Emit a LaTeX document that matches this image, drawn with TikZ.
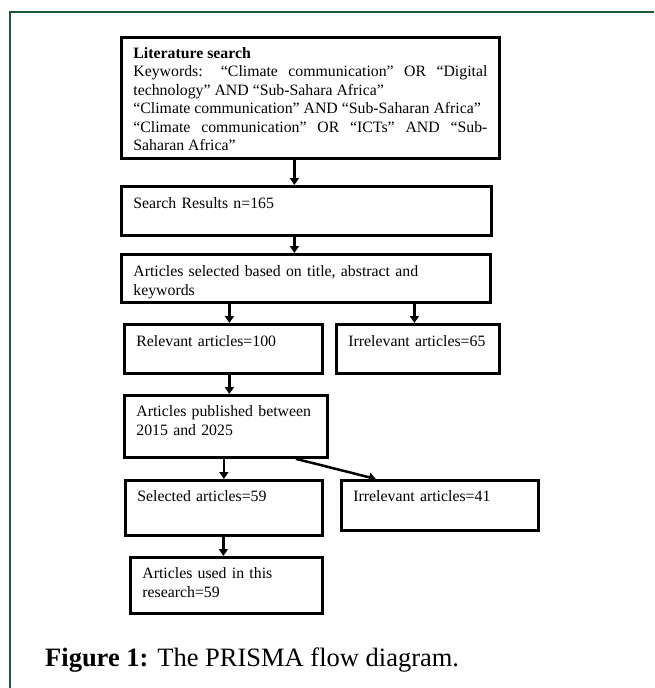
\documentclass[tikz,border=0pt]{standalone}
\usepackage{fontspec}
\setmainfont{Liberation Serif}
\usepackage{xcolor}
\usepackage{tikz}
\usetikzlibrary{arrows.meta,calc}
\definecolor{FrameGreen}{HTML}{1E5A38}

\begin{document}
\begin{tikzpicture}[
    x=1pt, y=-1pt,
    box/.style={draw, line width=2.8pt, anchor=north west, inner xsep=12pt, inner ysep=0pt,
      align=left, font=\fontsize{15.8}{19.5}\selectfont},
    arrow/.style={-{Triangle[length=7pt,width=9pt]}, line width=2.5pt},
    frame/.style={draw=FrameGreen, line width=2.6pt}
  ]
    \useasboundingbox (0,0) rectangle (654,688);
    \draw[frame] (10,688) -- (10,12) -- (654,12);
    \node[box, align=justify, text width=354pt, text height=21pt, text depth=100pt,
      font={\fontsize{15.8}{18.4}\selectfont\tolerance=9999}] (search) at (120,36)
      {\textbf{Literature search}\newline
       Keywords: “Climate communication” OR “Digital\linebreak
       technology” AND “Sub-Sahara Africa”\newline
       “Climate communication” AND “Sub-Saharan Africa”\newline
       “Climate communication” OR “ICTs” AND “Sub-\linebreak
       Saharan Africa”};
    \node[box, text width=346pt, text height=22pt, text depth=27pt] (results) at (120,185)
      {Search Results n=165};
    \node[box, text width=345pt, text height=22pt, text depth=26pt] (screening) at (120,253)
      {Articles selected based on title, abstract and\\ keywords};
    \node[box, text width=174pt, text height=22pt, text depth=27pt] (relevant) at (123,323)
      {Relevant articles=100};
    \node[box, text width=139pt, text height=22pt, text depth=27pt] (irrelevantA) at (335,323)
      {Irrelevant articles=65};
    \node[box, text width=179pt, text height=21pt, text depth=41pt] (published) at (123,394)
      {Articles published between\\ 2015 and 2025};
    \node[box, text width=173pt, text height=21pt, text depth=34pt] (selected) at (124,479)
      {Selected articles=59};
    \node[box, text width=173pt, text height=21pt, text depth=29pt] (irrelevantB) at (340,479)
      {Irrelevant articles=41};
    \node[box, text width=168pt, text height=21pt, text depth=35pt] (used) at (129,556)
      {Articles used in this\\ research=59};
    \node[anchor=base west, inner sep=0pt, font=\fontsize{26.5}{30}\selectfont] (caption) at (45,666)
      {\textbf{Figure 1:} The PRISMA flow diagram.};
    \draw[arrow] ([xshift=-12pt]results.north |- search.south) -- ([xshift=-12pt]results.north);
    \draw[arrow] ([xshift=-11.5pt]screening.north |- results.south) -- ([xshift=-11.5pt]screening.north);
    \draw[arrow] ([xshift=6pt]relevant.north |- screening.south) -- ([xshift=6pt]relevant.north);
    \draw[arrow] ([xshift=-3.5pt]irrelevantA.north |- screening.south) -- ([xshift=-3.5pt]irrelevantA.north);
    \draw[arrow] ([xshift=3.5pt]published.north |- relevant.south) -- ([xshift=3.5pt]published.north);
    \draw[arrow] (selected.north |- published.south) -- (selected.north);
    \draw[arrow] ($(published.south west)!.84!(published.south east)$) -- ($(irrelevantB.north west)!.18!(irrelevantB.north east)$);
    \draw[arrow] ([xshift=-3pt]used.north |- selected.south) -- ([xshift=-3pt]used.north);
\end{tikzpicture}
\end{document}
